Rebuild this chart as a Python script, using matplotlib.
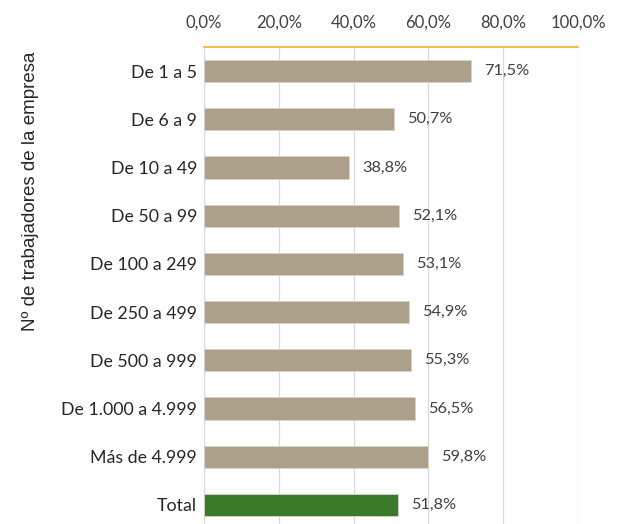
import matplotlib as mpl
mpl.use('Agg')
import matplotlib.pyplot as plt

categorias = ['De 1 a 5', 'De 6 a 9', 'De 10 a 49', 'De 50 a 99', 'De 100 a 249',
              'De 250 a 499', 'De 500 a 999', 'De 1.000 a 4.999', 'Más de 4.999', 'Total']
valores = [71.5, 50.7, 38.8, 52.1, 53.1, 54.9, 55.3, 56.5, 59.8, 51.8]
ticks_x = [0, 20, 40, 60, 80, 100]

plt.rcParams['font.family'] = ['Lato', 'DejaVu Sans']

fig = plt.figure(figsize=(6.17, 5.24), dpi=100)
ax = fig.add_axes([0.3306, -0.0095, 0.6062, 0.9198])

colores = ['#ADA08A'] * 9 + ['#3B7A28']
pos = range(len(categorias))
ax.barh(pos, valores, height=0.46, color=colores, edgecolor='#d8d4cc', linewidth=0.6, zorder=3)

for i, v in enumerate(valores):
    ax.annotate(f'{v:.1f}%'.replace('.', ','), (v, i), xytext=(9.5, 0), textcoords='offset points',
                va='center', ha='left', fontsize=11.8, color='#404040')

ax.set_xlim(0, 100)
ax.set_ylim(len(categorias) - 0.5, -0.5)
ax.set_yticks(list(pos))
ax.set_yticklabels(categorias, fontsize=12.8, color='#262626')
ax.set_xticks(ticks_x)
ax.set_xticklabels([f'{t:.1f}%'.replace('.', ',') for t in ticks_x], fontsize=12, color='#404040')
ax.xaxis.tick_top()
ax.tick_params(axis='both', length=0)
ax.tick_params(axis='x', pad=12)
ax.tick_params(axis='y', pad=5)
ax.grid(axis='x', color='#d9d9d9', linewidth=0.9, zorder=0)

for s in ['right', 'bottom']:
    ax.spines[s].set_visible(False)
ax.spines['left'].set_color('#d9d9d9')
ax.spines['top'].set_color('#F4B02A')
ax.spines['top'].set_linewidth(1.2)

ax.set_ylabel('Nº de trabajadores de la empresa', fontsize=13.5, color='#262626',
              family=['Liberation Sans', 'DejaVu Sans'])
ax.yaxis.set_label_coords(-0.44, 0.70)

fig.savefig('out.png', dpi=100)
